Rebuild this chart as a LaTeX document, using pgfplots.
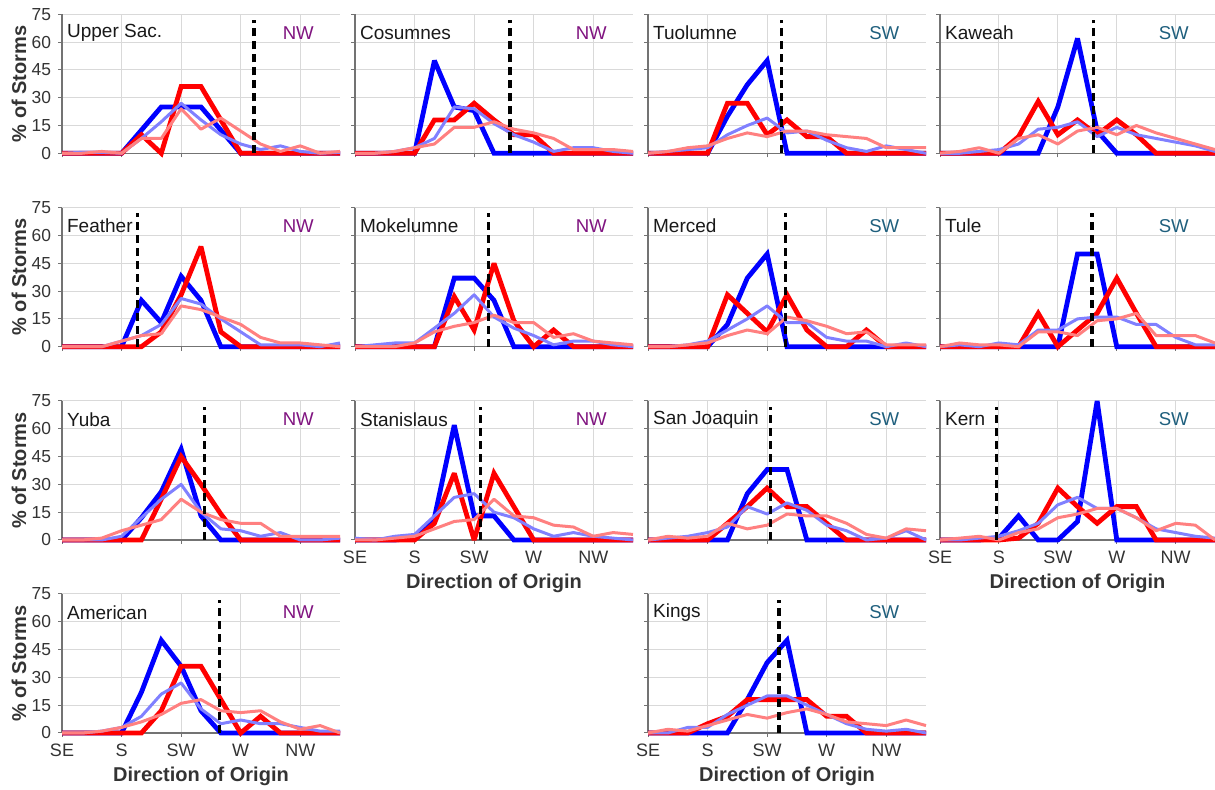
\documentclass[border=0pt]{standalone}
\usepackage{pgfplots}
\usepackage{pgfplotstable}
\pgfplotsset{compat=1.18}
\usepackage{fontspec}
\setmainfont{Liberation Sans}

\definecolor{cblue}{RGB}{0,0,255}
\definecolor{cred}{RGB}{255,0,0}
\definecolor{clblue}{RGB}{128,128,255}
\definecolor{clred}{RGB}{255,128,128}
\definecolor{colNW}{RGB}{128,20,128}
\definecolor{colSW}{RGB}{31,95,125}

\pgfplotstableread{
x b r lb lr
135 0 0 0 0
150 0 0 0.5 0
165 0 0 0.5 1
180 0 0 0 0
195 12.5 10 8 8
210 25 0 17 8
225 25 36 27 24
240 25 36 18 13
255 12.5 18 10 19
270 0 0 5 12
285 0 0 2 5
300 0 0 4 1
315 0 0 1 4
330 0 0 0 0
345 0 0 0.5 1
}\TUpperSac

\pgfplotstableread{
x b r lb lr
135 0 0 0 0
150 0 0 0 0
165 0 0 1 1
180 0 0 3 3
195 50 18 8 5
210 25 18 25 14
225 23 27 24 14
240 0 18 16 17
255 0 10 10 13
270 0 10 6 11
285 0 0 1 8
300 0 0 3 2
315 0 0 3 2
330 0 0 1 2
345 0 0 0 1
}\TCosumnes

\pgfplotstableread{
x b r lb lr
135 0 0 0 0
150 0 0 1 1
165 0 0 2 3
180 0 0 3 4
195 20 27 10 8
210 37 27 15 11
225 50 10 19 9
240 0 18 11 12
255 0 9 12 12
270 0 9 7 10
285 0 0 3 9
300 0 0 1 8
315 0 0 4 3
330 0 0 2 3
345 0 0 0 3
}\TTuolumne

\pgfplotstableread{
x b r lb lr
135 0 0 0 0
150 0 0 0 1
165 0 0 1 3
180 0 0 2 0
195 0 9 5 8
210 0 28 13 10
225 25 10 14 5
240 62 18 17 12
255 12 10 9 14
270 0 18 14 10
285 0 10 10 15
300 0 0 8 11
315 0 0 6 8
330 0 0 4 5
345 0 0 1 2
}\TKaweah

\pgfplotstableread{
x b r lb lr
135 0 0 0 0
150 0 0 0 0
165 0 0 0 0
180 0 0 3 3
195 25 0 6 6
210 13 8 12 7
225 38 28 26 22
240 25 54 23 20
255 0 8 15 16
270 0 0 8 12
285 0 0 1 5
300 0 0 1 2
315 0 0 1 2
330 0 0 0 1
345 0 0 2 0
}\TFeather

\pgfplotstableread{
x b r lb lr
135 0 0 0 0
150 0 0 1 0
165 0 0 2 0
180 0 0 2 2
195 0 0 10 8
210 37 27 18 11
225 37 9 28 13
240 25 45 16 17
255 0 14 10 13
270 0 0 6 13
285 0 9 1 5
300 0 0 3 7
315 0 0 3 3
330 0 0 1 2
345 0 0 0 1
}\TMokelumne

\pgfplotstableread{
x b r lb lr
135 0 0 0 0
150 0 0 0 0
165 0 0 1 1
180 0 0 3 2
195 12 28 9 6
210 37 18 15 9
225 50 8 22 7
240 0 28 13 16
255 0 9 13 14
270 0 0 5 11
285 0 0 3 7
300 0 9 3 8
315 0 0 0 1
330 0 0 2 1
345 0 0 0 1
}\TMerced

\pgfplotstableread{
x b r lb lr
135 0 0 0 0
150 0 0 1 2
165 0 0 0 1
180 0 0 2 1
195 0 0 1 0
210 0 18 9 8
225 0 0 9 8
240 50 9 15 6
255 50 18 16 14
270 0 37 16 15
285 0 18 12 18
300 0 0 12 6
315 0 0 5 6
330 0 0 1 6
345 0 0 1 2
}\TTule

\pgfplotstableread{
x b r lb lr
135 0 0 0 0
150 0 0 0 0
165 0 0 0 1
180 0 0 2 5
195 12 0 12 8
210 26 22 22 11
225 49 45 30 22
240 13 30 15 15
255 0 14 6 11
270 0 0 5 9
285 0 0 2 9
300 0 0 4 2
315 0 0 0 2
330 0 0 0 2
345 0 0 1 2
}\TYuba

\pgfplotstableread{
x b r lb lr
135 0 0 1 0
150 0 0 0 0
165 0 0 2 1
180 1 0 3 2
195 12 9 13 6
210 62 36 23 10
225 13 0 25 11
240 13 36 15 22
255 0 18 12 13
270 0 0 6 12
285 0 0 2 8
300 0 0 4 7
315 0 0 2 2
330 0 0 1 4
345 0 0 0 3
}\TStanislaus

\pgfplotstableread{
x b r lb lr
135 0 0 0 0
150 0 0 1 2
165 0 0 2 1
180 0 0 4 2
195 0 9 7 9
210 25 18 18 6
225 38 28 14 8
240 38 18 20 14
255 0 18 16 13
270 0 9 8 13
285 0 0 5 9
300 0 0 0 3
315 0 0 1 1
330 0 0 5 6
345 0 0 0 5
}\TSanJoaquin

\pgfplotstableread{
x b r lb lr
135 0 0 0 0
150 0 0 0 1
165 0 0 1 2
180 1 0 2 0
195 13 1 5 4
210 0 9 9 6
225 0 28 19 12
240 10 18 23 14
255 75 9 17 17
270 0 18 17 17
285 0 18 12 12
300 0 0 6 5
315 0 0 4 9
330 0 0 2 8
345 0 0 1 0
}\TKern

\pgfplotstableread{
x b r lb lr
135 0 0 0 0
150 0 0 0 0
165 0 0 1 1
180 0 0 3 3
195 22 0 9 6
210 50 12 21 10
225 36 36 27 16
240 12 36 13 18
255 0 18 5 12
270 0 0 7 11
285 0 9 5 12
300 0 0 5 6
315 0 0 3 2
330 0 0 1 4
345 0 0 1 0
}\TAmerican

\pgfplotstableread{
x b r lb lr
135 0 0 0 0
150 0 0 0 2
165 0 0 3 1
180 0 5 3 4
195 0 9 10 7
210 18 18 15 10
225 38 18 20 8
240 50 18 20 11
255 0 18 15 13
270 0 9 10 10
285 0 9 5 6
300 0 0 2 5
315 0 0 1 4
330 0 0 2 7
345 0 0 0 4
}\TKings

\pgfplotsset{
  panel/.style={
    scale only axis, width=139pt, height=69.5pt,
    anchor=south west,
    xmin=135, xmax=345, ymin=0, ymax=75,
    xtick={135,180,225,270,315}, ytick={0,15,30,45,60,75},
    xticklabels={}, yticklabels={},
    axis x line*=bottom, axis y line*=left,
    axis line style={black!55, line width=0.6pt},
    grid=major, major grid style={black!15, line width=0.5pt},
    tick align=outside, major tick length=2pt,
    tick style={black!55, line width=0.5pt},
    clip=false,
    /pgf/number format/assume math mode=true,
    xticklabel style={font=\fontsize{9}{10}\selectfont, text=black!80},
    yticklabel style={font=\fontsize{8.7}{10}\selectfont, text=black!80},
  },
  withx/.style={
    xticklabels={SE,S,SW,W,NW},
    xlabel={Direction of Origin},
    xlabel style={font=\fontsize{10}{12}\selectfont\bfseries, text=black!80,
      at={(axis description cs:0.5,-0.31)}, anchor=center},
  },
  withy/.style={
    yticklabels={0,15,30,45,60,75},
    ylabel={\% of Storms},
    ylabel style={font=\fontsize{10}{12}\selectfont\bfseries, text=black!80,
      at={(axis description cs:-0.155,0.5)}, anchor=center},
  },
  bl/.style={cblue, line width=2.4pt, no marks, line join=miter, miter limit=3},
  rd/.style={cred, line width=2.4pt, no marks, line join=miter, miter limit=3},
  lbl/.style={clblue, line width=1.5pt, no marks, line join=round},
  lrd/.style={clred, line width=1.5pt, no marks, line join=round},
  dashln/.style={black, line width=1.7pt, dash pattern=on 4pt off 2.5pt, no marks},
}

\tikzset{
  pname/.style={anchor=west, inner sep=0pt, font=\fontsize{9.5}{10}\selectfont, text=black!90},
  preg/.style={anchor=center, inner sep=0pt, font=\fontsize{9.3}{10}\selectfont},
}

\newcommand{\panel}[7]{%
\begin{axis}[panel, at={(#1,#2)}, #7]
\addplot[bl] table[x=x,y=b]{#3};
\addplot[rd] table[x=x,y=r]{#3};
\addplot[lbl] table[x=x,y=lb]{#3};
\addplot[lrd] table[x=x,y=lr]{#3};
\addplot[dashln] coordinates {(#6,0) (#6,72)};
\node[pname] at (rel axis cs:0.017,0.868) {#4};
\node[preg, text=col#5] at (rel axis cs:0.85,0.868) {#5};
\end{axis}}

\begin{document}
\begin{tikzpicture}
\useasboundingbox (0,0) rectangle (607.5pt,395pt);
% row 1
\panel{31pt}{318.35pt}{\TUpperSac}{Upper Sac.}{NW}{280}{withy}
\panel{177.5pt}{318.35pt}{\TCosumnes}{Cosumnes}{NW}{252}{}
\panel{324pt}{318.35pt}{\TTuolumne}{Tuolumne}{SW}{236}{}
\panel{470pt}{318.35pt}{\TKaweah}{Kaweah}{SW}{252}{width=137.5pt}
% row 2
\panel{31pt}{221.65pt}{\TFeather}{Feather}{NW}{192}{withy}
\panel{177.5pt}{221.65pt}{\TMokelumne}{Mokelumne}{NW}{236}{}
\panel{324pt}{221.65pt}{\TMerced}{Merced}{SW}{239}{}
\panel{470pt}{221.65pt}{\TTule}{Tule}{SW}{251}{width=137.5pt}
% row 3
\panel{31pt}{125pt}{\TYuba}{Yuba}{NW}{242.5}{withy}
\panel{177.5pt}{125pt}{\TStanislaus}{Stanislaus}{NW}{230}{withx}
\panel{324pt}{125pt}{\TSanJoaquin}{San Joaquin}{SW}{227.5}{}
\panel{470pt}{125pt}{\TKern}{Kern}{SW}{178}{width=137.5pt, withx}
% row 4
\panel{31pt}{28.5pt}{\TAmerican}{American}{NW}{254}{withy, withx}
\panel{324pt}{28.5pt}{\TKings}{Kings}{SW}{234}{withx}
\end{tikzpicture}
\end{document}
